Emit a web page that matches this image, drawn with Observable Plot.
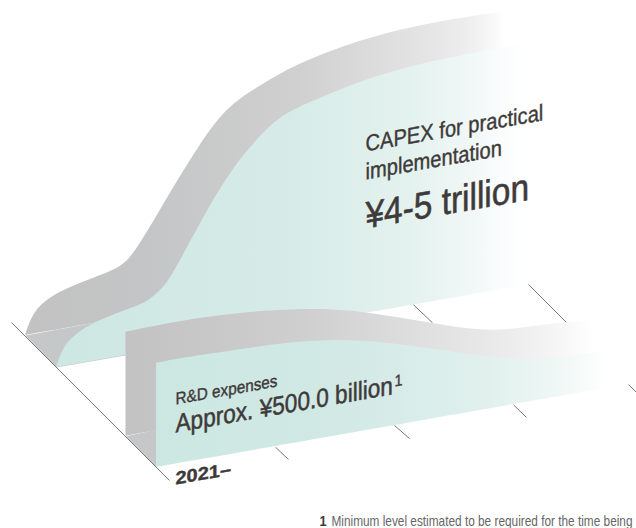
<!DOCTYPE html>
<html>
<head>
<meta charset="utf-8">
<script src="https://cdn.jsdelivr.net/npm/d3@7"></script>
<script src="https://cdn.jsdelivr.net/npm/@observablehq/plot@0.6"></script>
<style>
  html, body { margin: 0; padding: 0; background: #fff; overflow: hidden; }
  svg { display: block; }
</style>
</head>
<body>
<div id="chart"></div>
<script>
// CAPEX ribbon (rear plane): outline, curve top and floor line
const capexWallX = [25,33,50,67,90,113,127,140,157,173,190,207,223,237,265,300,367,433,493,525];
const capexWallTop = [335,311,297,288,279,270,262,243,215,187,160,133,113,100,82,62,37,22,13,9];
const capexWallBase = [335,333.6,330.6,327.7,323.6,319.6,317.2,314.9,311.9,309.1,306.1,303.2,300.4,297.9,293,286.9,275.2,263.6,253.1,247.5];
const capexFaceX = [56,63,73,93,133,147,163,173,187,200,217,233,250,267,283,300,320,367,433,500,528];
const capexFaceTop = [367,347,336,322,307,302,288,273,247,223,193,168,147,128,115,106,98,78,60,48,43];
const capexFaceBase = [367,365.8,364,360.5,353.5,351.1,348.3,346.5,344.1,341.8,338.8,336,333,330.1,327.3,324.3,320.8,312.6,301,289.3,284.4];
const capexFloorX = [25,56,156,125];
const capexFloorY = [335,367,349.5,316.5];

// R&D ribbon (front plane)
const rndWallX = [125.5,200,267,316,349,383,416,449,483,503,533,566,600,640];
const rndWallTop = [331.7,316.7,310,308.5,310,315,320,326,330,330,326,322,320,319];
const rndWallBase = [435.7,422.6,410.8,402.2,396.4,390.4,384.6,378.8,372.8,369.3,364,358.2,352.2,345.1];
const rndFaceX = [156,200,267,316,349,383,416,449,483,523,549,600,616,640];
const rndFaceTop = [362.7,355,345,340,340,341.7,346.7,350.7,356,360,358,351.7,350,348];
const rndFaceBase = [467,459.3,447.5,438.8,433,427,421.2,415.4,409.4,402.4,397.8,388.9,386,381.8];
const rndFloorX = [125.5,156,156];
const rndFloorY = [435.7,467,429.3];

// Time axis: the long edge at the start and the receding tick segments
const axisX1 = [11];
const axisY1 = [322];
const axisX2 = [169];
const axisY2 = [480];
const rearTickX1 = [413,528];
const rearTickY1 = [304.3,284];
const rearTickX2 = [432,566];
const rearTickY2 = [322.3,322];
const frontTickX1 = [275,394,513,628];
const frontTickY1 = [446.7,425,404.3,384];
const frontTickX2 = [288,409,526,640];
const frontTickY2 = [459,438,417,396];

// Text
const capexLabel = ["CAPEX for practical", "implementation"];
const capexAmount = ["¥4-5 trillion"];
const rndLabel = ["R&D expenses"];
const rndAmount = ["Approx. ¥500.0 billion"];
const rndMark = ["1"];
const periodLabel = ["2021–"];
const noteMarker = ["1"];
const noteText = ["Minimum level estimated to be required for the time being"];

// Fade-out ramps for the ribbons
const rearWallRamp = [[0,"#c2c2c2"],[0.25,"#c4c5c6"],[0.55,"#d0d0d0"],[0.82,"#e6e6e6"],[0.884,"#eeeeee"],[0.936,"#f8f8f8"],[0.96,"#ffffff"],[1,"#ffffff"]];
const rearFaceRamp = [[0,"#cde7e2"],[0.5,"#d6ebe7"],[0.78,"#e6f3f0"],[0.88,"#f1f8f7"],[0.95,"#fbfdfd"],[1,"#ffffff"]];
const frontWallRamp = [[0,"#c2c2c2"],[0.35,"#cfcfcf"],[0.695,"#e8e8e8"],[0.79,"#f0f0f0"],[0.856,"#f8f8f8"],[0.91,"#ffffff"],[1,"#ffffff"]];
const frontFaceRamp = [[0,"#cce7e1"],[0.4,"#d2e9e5"],[0.54,"#d9ede9"],[0.676,"#e0f0ed"],[0.812,"#edf6f4"],[0.882,"#f7fbfa"],[0.93,"#ffffff"],[1,"#ffffff"]];

function gradients() {
  const defs = d3.create("svg:defs");
  const ramps = {rearWall: rearWallRamp, rearFace: rearFaceRamp, frontWall: frontWallRamp, frontFace: frontFaceRamp};
  for (const [id, ramp] of Object.entries(ramps)) {
    const g = defs.append("linearGradient").attr("id", id).attr("x1", 0).attr("x2", 1).attr("y1", 0).attr("y2", 0);
    for (const [offset, color] of ramp) g.append("stop").attr("offset", offset).attr("stop-color", color);
  }
  return defs.node();
}

// A ribbon surface: top curve over a straight floor edge
function surface(xs, tops, bases, fill) {
  return Plot.areaY(xs, {x: (d) => d, y1: (d, i) => tops[i], y2: (d, i) => bases[i], fill, curve: "basis"});
}

function floorPatch(xs, ys, fill) {
  return Plot.line(xs, {x: (d) => d, y: (d, i) => ys[i], fill, stroke: "none", curve: "linear"});
}

function edges(x1, y1, x2, y2, stroke) {
  return Plot.link(x1, {x1: (d) => d, y1: (d, i) => y1[i], x2: (d, i) => x2[i], y2: (d, i) => y2[i], stroke, strokeWidth: 1, curve: "linear"});
}

// Text, optionally lying in the slanted plane of the ribbons
function label(lines, x, ys, {size, weight = "normal", fill = "#3e3a39", stretch = 1, skew = -10, outline = 0.4}) {
  return Plot.text(lines, {
    text: (d) => d,
    x: () => x,
    y: (d, i) => ys[i],
    fontSize: size,
    fontWeight: weight,
    fontFamily: "Liberation Sans",
    fill,
    stroke: outline ? fill : "none",
    strokeWidth: outline,
    textAnchor: "start",
    lineAnchor: "bottom",
    render(index, scales, values, dimensions, context, next) {
      const g = next(index, scales, values, dimensions, context);
      d3.select(g).selectAll("text").attr("transform", function () {
        return `${this.getAttribute("transform")} skewY(${skew}) scale(${stretch},1)`;
      });
      return g;
    }
  });
}

const chart = Plot.plot({
  width: 636,
  height: 528,
  margin: 0,
  x: {domain: [0, 636], axis: null},
  y: {domain: [528, 0], axis: null},
  marks: [
    gradients,
    floorPatch(capexFloorX, capexFloorY, "#c6c7c9"),
    surface(capexWallX, capexWallTop, capexWallBase, "url(#rearWall)"),
    surface(capexFaceX, capexFaceTop, capexFaceBase, "url(#rearFace)"),
    edges(rearTickX1, rearTickY1, rearTickX2, rearTickY2, "#777777"),
    floorPatch(rndFloorX, rndFloorY, "#c6c7c9"),
    surface(rndWallX, rndWallTop, rndWallBase, "url(#frontWall)"),
    surface(rndFaceX, rndFaceTop, rndFaceBase, "url(#frontFace)"),
    edges(frontTickX1, frontTickY1, frontTickX2, frontTickY2, "#777777"),
    edges(axisX1, axisY1, axisX2, axisY2, "#777777"),
    label(capexLabel, 365, [151, 179], {size: 23, stretch: 0.875}),
    label(capexAmount, 365, [228], {size: 38, stretch: 0.88, outline: 0.6}),
    label(rndLabel, 175, [404], {size: 17, stretch: 0.9}),
    label(rndAmount, 175, [432], {size: 26, stretch: 0.87, outline: 0.5}),
    label(rndMark, 394, [386], {size: 16, stretch: 0.9}),
    label(periodLabel, 175, [484], {size: 18, weight: "bold", stretch: 1.11}),
    label(noteMarker, 319, [525], {size: 14, weight: "bold", stretch: 0.9, skew: 0, outline: 0}),
    label(noteText, 331, [525], {size: 14, fill: "#666666", stretch: 0.845, skew: 0, outline: 0})
  ]
});
document.getElementById("chart").append(chart);
</script>
</body>
</html>
